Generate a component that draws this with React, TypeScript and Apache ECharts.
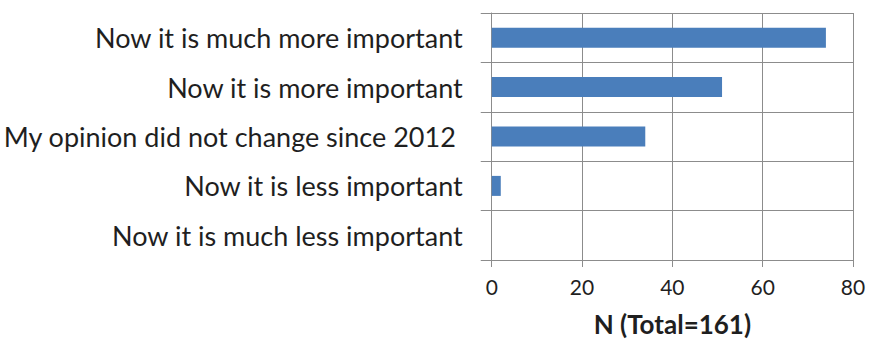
import React, { useEffect, useRef } from "react";
import * as echarts from "echarts";

const categories = [
  "Now it is much more important",
  "Now it is more important",
  "My opinion did not change since 2012 ",
  "Now it is less important",
  "Now it is much less important",
];
const values = [74, 51, 34, 2, 0];
const xTicks = { min: 0, max: 80, interval: 20 };
const xTitle = "N (Total=161)";

const FONT = "Lato, 'Open Sans', sans-serif";
const GRID = "#8c8c8c";
const TEXT = "#1f1f1f";

export default function App() {
  const ref = useRef<HTMLDivElement>(null);
  useEffect(() => {
    if (!ref.current) return;
    const chart = echarts.init(ref.current, undefined, { renderer: "svg" });
    chart.setOption({
      animation: false,
      backgroundColor: "#ffffff",
      grid: { left: 489, right: 23, top: 13, bottom: 81, containLabel: false },
      xAxis: {
        type: "value",
        min: xTicks.min,
        max: xTicks.max,
        interval: xTicks.interval,
        name: xTitle,
        nameLocation: "middle",
        nameGap: 51,
        nameTextStyle: { fontFamily: FONT, fontSize: 26, fontWeight: "bold", color: TEXT },
        axisLine: { show: true, lineStyle: { color: GRID, width: 1 } },
        axisTick: { show: true, length: 7, lineStyle: { color: GRID } },
        axisLabel: { fontFamily: FONT, fontSize: 21, color: TEXT, margin: 16 },
        splitLine: { show: true, lineStyle: { color: GRID, width: 1 } },
      },
      yAxis: {
        type: "category",
        inverse: true,
        data: categories,
        axisLine: { show: true, lineStyle: { color: GRID, width: 1 } },
        axisTick: { show: true, length: 11, lineStyle: { color: GRID } },
        axisLabel: { fontFamily: FONT, fontSize: 27, color: TEXT, margin: 29 },
        splitLine: { show: true, lineStyle: { color: GRID, width: 1 } },
      },
      series: [
        {
          type: "bar",
          data: values,
          barWidth: 20,
          itemStyle: { color: "#4a7ebb" },
        },
      ],
    });
    return () => chart.dispose();
  }, []);
  return (
    <div
      ref={ref}
      style={{ position: "fixed", left: 0, top: 0, width: 876, height: 342, background: "#fff" }}
    />
  );
}
